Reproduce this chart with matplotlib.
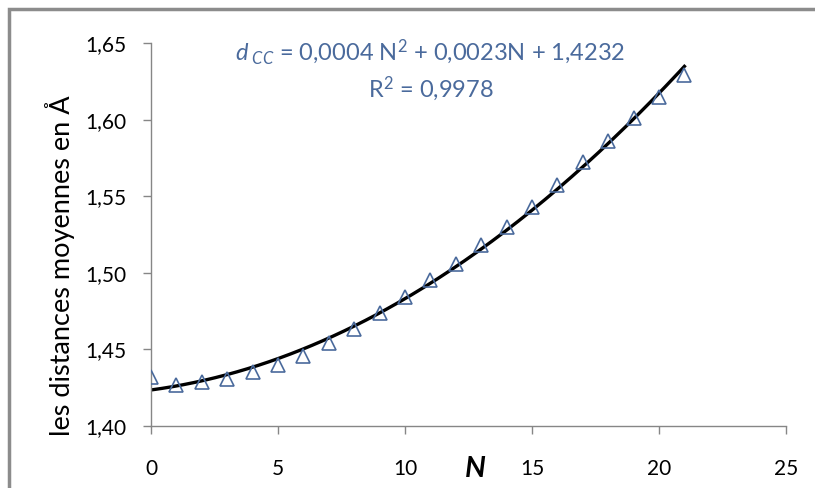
import numpy as np
import matplotlib.pyplot as plt
from matplotlib.ticker import FuncFormatter
from matplotlib.patches import Rectangle

plt.rcParams['font.family'] = ['Lato', 'DejaVu Sans']
plt.rcParams['mathtext.fontset'] = 'custom'
plt.rcParams['mathtext.rm'] = 'Lato'
plt.rcParams['mathtext.it'] = 'Lato:italic'
plt.rcParams['mathtext.bf'] = 'Lato:bold'

# mean C-C distances (Angstrom) vs N
n_values = np.arange(0, 22)
d_values = np.array([1.432, 1.427, 1.429, 1.431, 1.435, 1.440, 1.446, 1.454,
                     1.463, 1.474, 1.484, 1.495, 1.506, 1.518, 1.530, 1.543,
                     1.557, 1.572, 1.586, 1.601, 1.615, 1.629])

eq_text = r'$\mathit{d}_{\ \mathit{CC}}$ = 0,0004 N$^2$ + 0,0023N + 1,4232'
r2_text = r'R$^2$ = 0,9978'

blue = '#4a6a9c'
fig = plt.figure(figsize=(8.15, 4.88), dpi=100)
fig.patches.append(Rectangle((9 / 815, -0.1), 1.2, 1 - 9 / 488 + 0.1,
                             transform=fig.transFigure, fill=False,
                             edgecolor='#8c8c8c', linewidth=2.5))
ax = fig.add_axes([151 / 815, 1 - 426 / 488, (786 - 151) / 815, (426 - 43) / 488])

# quadratic trend line fitted on the points
coefs = np.polyfit(n_values, d_values, 2)
xs = np.linspace(n_values[0], n_values[-1], 200)
ax.plot(xs, np.polyval(coefs, xs), color='black', linewidth=2.4, zorder=2)
ax.plot(n_values, d_values, linestyle='none', marker='^', markersize=10,
        markerfacecolor='none', markeredgecolor=blue, markeredgewidth=1.2, zorder=3)

ax.set_xlim(0, 25)
ax.set_ylim(1.40, 1.65)
ax.set_xticks([0, 5, 10, 15, 20, 25])
ax.set_yticks([1.40, 1.45, 1.50, 1.55, 1.60, 1.65])
ax.yaxis.set_major_formatter(FuncFormatter(lambda v, p: f'{v:.2f}'.replace('.', ',')))
ax.spines['top'].set_visible(False)
ax.spines['right'].set_visible(False)
for s in ['left', 'bottom']:
    ax.spines[s].set_color('#868686')
    ax.spines[s].set_linewidth(1)
ax.tick_params(axis='both', colors='#868686', labelcolor='black', labelsize=15,
               length=6, width=1, direction='out')
ax.tick_params(axis='x', pad=18)
ax.tick_params(axis='y', pad=12)

ax.set_ylabel('les distances moyennes en Å', fontsize=19.5)
ax.yaxis.set_label_coords(-0.12, 0.418)
ax.text(12.75, 1.372, 'N', fontsize=21, fontweight='bold', fontstyle='italic',
        ha='center', va='center')

ax.text(11.0, 1.644, eq_text, color=blue, fontsize=17, ha='center', va='center')
ax.text(11.0, 1.6205, r2_text, color=blue, fontsize=17, ha='center', va='center')

fig.savefig('out.png', dpi=100)
